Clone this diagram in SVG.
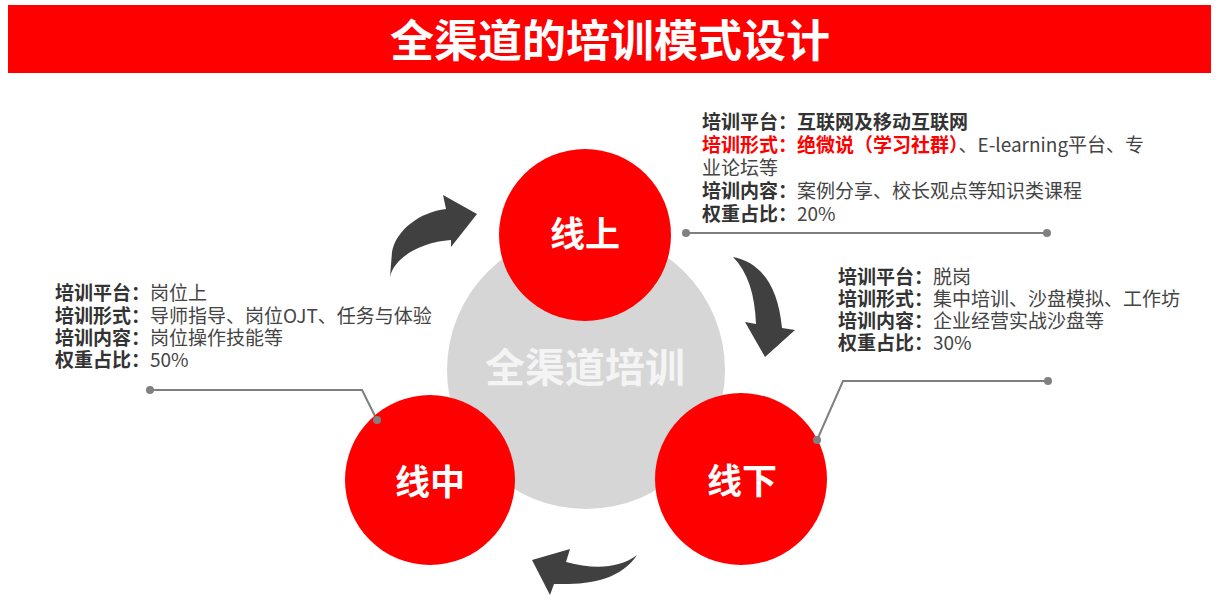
<svg xmlns="http://www.w3.org/2000/svg" width="1219" height="601" viewBox="0 0 1219 601">
<style>
text{font-family:"Noto Sans CJK SC","Noto Sans",sans-serif}
.t{font-size:19px;fill:#444}
.b{font-weight:700;fill:#333}
.r{font-weight:700;fill:#ff0000}
.node{fill:#ff0000}
.nl{font-size:35px;font-weight:700;fill:#fff;text-anchor:middle}
.ln{fill:none;stroke:#7f7f7f;stroke-width:2}
.dot{fill:#808080}
.arr{fill:#404040}
</style>
<rect width="1219" height="601" fill="#fff"/>
<g id="title">
<rect x="8" y="5" width="1203" height="68" fill="#ff0000"/>
<text x="610" y="57" font-size="44" font-weight="700" fill="#fff" text-anchor="middle">全渠道的培训模式设计</text>
</g>
<g id="center">
<circle cx="586" cy="370" r="139" fill="#d6d6d6"/>
<text x="585" y="382" font-size="40" font-weight="700" fill="#f4f4f4" text-anchor="middle">全渠道培训</text>
</g>
<g id="connectors">
<path class="arr" d="M390,277 C394,258 420,242 451,240 L451,247 L477,214 L443,195 L446,209 C420,212 396,230 392,252 Z"/>
<path class="arr" d="M733,257 C760,262 778,285 782,328 L795,330 L765,357 L745,322 L756,324 C755,295 748,272 733,257 Z"/>
<path class="arr" d="M637,555 C620,580 590,585 554,584 L550,595 L532,560 L570,549 L566,562 C595,570 620,568 637,555 Z"/>
<path class="ln" d="M683,233 H1048"/>
<circle class="dot" cx="686" cy="233" r="4"/>
<circle class="dot" cx="1047" cy="233" r="4"/>
<path class="ln" d="M150,390 H362 L377,420"/>
<circle class="dot" cx="150" cy="390" r="4"/>
<circle class="dot" cx="377" cy="420" r="4"/>
<path class="ln" d="M1048,381 H843 L817,440"/>
<circle class="dot" cx="1048" cy="381" r="4"/>
</g>
<g id="online">
<circle class="node" cx="585" cy="235" r="86"/>
<text class="nl" x="585" y="247">线上</text>
</g>
<g id="middle">
<circle class="node" cx="430" cy="480" r="85"/>
<circle class="dot" cx="377" cy="420" r="4"/>
<text class="nl" x="430" y="495">线中</text>
</g>
<g id="offline">
<circle class="node" cx="741" cy="479" r="86"/>
<circle class="dot" cx="817" cy="440" r="4"/>
<text class="nl" x="742" y="494">线下</text>
</g>
<g id="online-text" class="t">
<text x="702" y="129"><tspan class="b">培训平台：互联网及移动互联网</tspan></text>
<text x="702" y="152"><tspan class="r">培训形式：绝微说（学习社群）</tspan>、E-learning平台、专</text>
<text x="702" y="175">业论坛等</text>
<text x="702" y="198"><tspan class="b">培训内容：</tspan>案例分享、校长观点等知识类课程</text>
<text x="702" y="221"><tspan class="b">权重占比：</tspan>20%</text>
</g>
<g id="middle-text" class="t">
<text x="55" y="300"><tspan class="b">培训平台：</tspan>岗位上</text>
<text x="55" y="323"><tspan class="b">培训形式：</tspan>导师指导、岗位OJT、任务与体验</text>
<text x="55" y="345"><tspan class="b">培训内容：</tspan>岗位操作技能等</text>
<text x="55" y="367"><tspan class="b">权重占比：</tspan>50%</text>
</g>
<g id="offline-text" class="t">
<text x="838" y="284"><tspan class="b">培训平台：</tspan>脱岗</text>
<text x="838" y="306"><tspan class="b">培训形式：</tspan>集中培训、沙盘模拟、工作坊</text>
<text x="838" y="328"><tspan class="b">培训内容：</tspan>企业经营实战沙盘等</text>
<text x="838" y="350"><tspan class="b">权重占比：</tspan>30%</text>
</g>
</svg>
